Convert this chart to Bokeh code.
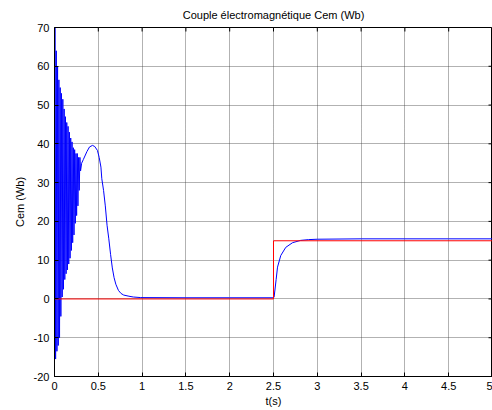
import math
from bokeh.plotting import figure
from bokeh.models import Range1d, FixedTicker
from bokeh.embed import file_html
from bokeh.resources import INLINE

# Blue: electromagnetic torque Cem
blue_t = [0, 0.005, 0.0125, 0.02, 0.0275, 0.035, 0.0425, 0.05, 0.0575, 0.065,
          0.0725, 0.08, 0.0875, 0.095, 0.1025, 0.11, 0.1175, 0.125, 0.1325,
          0.14, 0.1475, 0.155, 0.1625, 0.17, 0.1775, 0.185, 0.1925, 0.2,
          0.2075, 0.215, 0.2225, 0.23, 0.2375, 0.245, 0.2525, 0.26, 0.2675,
          0.275, 0.2825, 0.29, 0.2975, 0.31, 0.33, 0.37, 0.40, 0.434,
          0.46, 0.49, 0.51, 0.53, 0.54, 0.56, 0.58, 0.60, 0.62, 0.64, 0.66, 0.68,
          0.70, 0.73, 0.76, 0.79, 0.85, 0.90, 0.985, 1.5, 2.0, 2.5, 2.507, 2.53,
          2.546, 2.583, 2.64, 2.717, 2.81, 2.9, 3.0, 3.5, 4.0, 4.5, 5.0]
blue_v = [0, 70, -15.5, 64, -13.5, 60, -12, 56.5, -10, 54.5,
          -4.5, 53, 0.5, 51.5, 2.5, 49, 5, 47, 6.5,
          45.5, 7.5, 44.5, 9, 43, 10.5, 41.5, 12.5, 40.5,
          14.5, 39, 16.5, 38.5, 19.5, 37.5, 21.5, 37.5, 24,
          36.5, 28, 36.5, 33, 35, 36, 38, 39.2, 39.6,
          39.3, 38.3, 36.5, 34, 31, 28, 24, 19, 15.5, 11.5, 8, 5.5,
          3.8, 2.2, 1.4, 1.0, 0.7, 0.5, 0.35, 0.3, 0.3, 0.3, 0.5, 5,
          8.2, 11.2, 13.3, 14.5, 15.1, 15.3, 15.4, 15.5, 15.5, 15.5, 15.5]

# Red: load torque reference
red_t = [0, 2.5, 2.5, 5.0]
red_v = [0, 0, 15, 15]

x_ticks = [0, 0.5, 1, 1.5, 2, 2.5, 3, 3.5, 4, 4.5, 5]
x_tick_labels = ["0", "0.5", "1", "1.5", "2", "2.5", "3", "3.5", "4", "4.5", "5"]
y_ticks = [-20, -10, 0, 10, 20, 30, 40, 50, 60, 70]
y_tick_labels = ["-20", "-10", "0", "10", "20", "30", "40", "50", "60", "70"]

FONT = "Liberation Sans"

p = figure(width=492, height=410, output_backend="svg", toolbar_location=None,
           x_range=Range1d(0, 5), y_range=Range1d(-20, 70),
           title="Couple électromagnétique Cem (Wb)",
           min_border_left=54, min_border_right=0, min_border_top=5, min_border_bottom=34)

p.title.align = "center"
p.title.text_font = FONT
p.title.text_font_size = "11px"
p.title.text_font_style = "normal"
p.title.text_color = "black"
p.title.standoff = 13

p.background_fill_color = "white"
p.border_fill_color = "white"
p.outline_line_color = "black"
p.outline_line_width = 1

def style_axis(ax, ticks, labels):
    ax.ticker = FixedTicker(ticks=ticks)
    ax.major_label_overrides = {t: l for t, l in zip(ticks, labels)}
    ax.minor_tick_line_color = None
    ax.major_tick_in = 4
    ax.major_tick_out = 0
    ax.axis_line_color = "black"
    ax.major_tick_line_color = "black"
    ax.major_label_text_font = FONT
    ax.major_label_text_font_size = "11px"
    ax.major_label_text_color = "black"
    ax.major_label_standoff = 5
    ax.axis_label_text_font = FONT
    ax.axis_label_text_font_size = "11px"
    ax.axis_label_text_font_style = "normal"
    ax.axis_label_text_color = "black"

style_axis(p.xaxis[0], x_ticks, x_tick_labels)
style_axis(p.yaxis[0], y_ticks, y_tick_labels)
p.xaxis[0].axis_label = "t(s)"
p.xaxis[0].axis_label_standoff = 2
p.yaxis[0].axis_label = "Cem (Wb)"
p.yaxis[0].axis_label_standoff = 5

p.xgrid[0].ticker = FixedTicker(ticks=x_ticks)
p.ygrid[0].ticker = FixedTicker(ticks=y_ticks)
for g in (p.xgrid[0], p.ygrid[0]):
    g.grid_line_color = "#404040"
    g.grid_line_dash = "1 1"
    g.grid_line_alpha = 0.8
    g.grid_line_width = 1

# inward tick marks on top and right edges (clipped to the frame)
p.scatter(x_ticks, [70] * len(x_ticks), marker="dash", size=8, angle=math.pi / 2,
          line_color="black", line_width=1)
p.scatter([5] * len(y_ticks), y_ticks, marker="dash", size=8,
          line_color="black", line_width=1)

p.line(blue_t, blue_v, line_color="#0000ff", line_width=1)
p.line(red_t, red_v, line_color="#ff0000", line_width=1)

open("out.html", "w").write(file_html(p, INLINE))
